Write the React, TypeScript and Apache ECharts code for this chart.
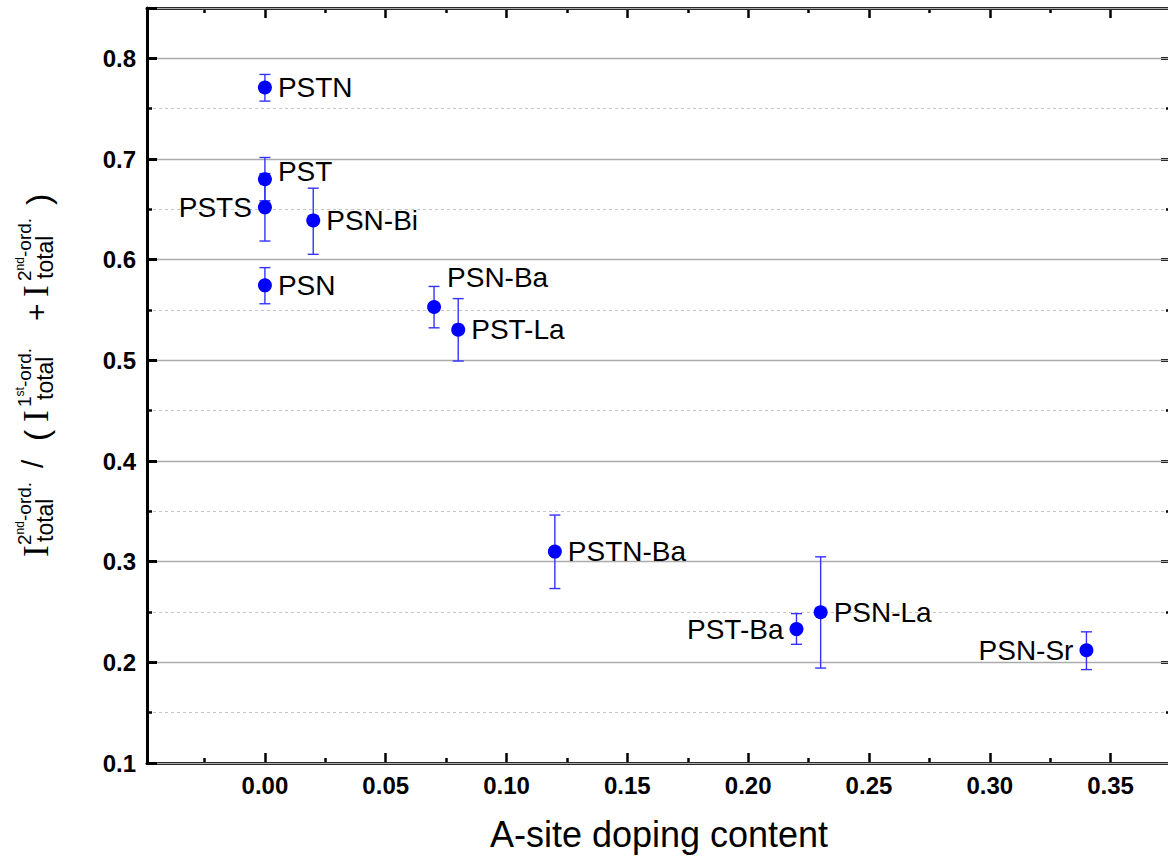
import React, { useEffect, useRef } from 'react';
import * as echarts from 'echarts';

// ---- data ----
const sampleNames = ['PSTN', 'PST', 'PSTS', 'PSN-Bi', 'PSN', 'PSN-Ba', 'PST-La', 'PSTN-Ba', 'PST-Ba', 'PSN-La', 'PSN-Sr'];
const dopingContent = [0, 0, 0, 0.02, 0, 0.07, 0.08, 0.12, 0.22, 0.23, 0.34];
const intensityRatio = [0.771, 0.680, 0.652, 0.639, 0.5745, 0.553, 0.5305, 0.310, 0.233, 0.2497, 0.212];
const errorLow = [0.7575, 0.6585, 0.6185, 0.6053, 0.5562, 0.5323, 0.4993, 0.2733, 0.2179, 0.1943, 0.1928];
const errorHigh = [0.784, 0.7015, 0.6855, 0.671, 0.5921, 0.5734, 0.5613, 0.3463, 0.2484, 0.3048, 0.2303];

const xMajorTicks = [0, 0.05, 0.1, 0.15, 0.2, 0.25, 0.3, 0.35];
const xMinorTicks = [-0.025, 0.025, 0.075, 0.125, 0.175, 0.225, 0.275, 0.325];
const X_MIN = -0.0488;
const X_MAX = 0.375;
const Y_MIN = 0.1;
const Y_MAX = 0.85;

const xTitle = 'A-site doping content';

// label placement (style, not data)
const leftLabels = new Set(['PSTS', 'PST-Ba', 'PSN-Sr']);
const labelOffsets: Record<string, number[]> = { 'PST': [0, -8], 'PSN-Ba': [0, -29] };

const SANS = '"Liberation Sans", Arial, Helvetica, sans-serif';
const SERIF = '"Liberation Serif", "Times New Roman", serif';
const DOT = '#0000ff';
const ERR = '#3333ff';

// y-axis title pieces: u = distance along reading direction from bottom, v = page x of glyph centre
type Piece = { u: number; v: number; t: string; fs: number; serif?: boolean };
const titlePieces: Piece[] = [
  { u: 0, v: 36.5, t: 'I', fs: 35, serif: true },
  { u: 12, v: 24, t: '2', fs: 19 },
  { u: 22.6, v: 20, t: 'nd', fs: 12 },
  { u: 36, v: 24, t: '-ord.', fs: 19 },
  { u: 15, v: 44.5, t: 'total', fs: 23 },
  { u: 89, v: 32, t: '/', fs: 30 },
  { u: 116, v: 36, t: '(', fs: 34 },
  { u: 135, v: 36.5, t: 'I', fs: 35, serif: true },
  { u: 150, v: 24, t: '1', fs: 19 },
  { u: 160.6, v: 20, t: 'st', fs: 12 },
  { u: 170, v: 24, t: '-ord.', fs: 19 },
  { u: 157, v: 44.5, t: 'total', fs: 23 },
  { u: 236, v: 36.5, t: '+', fs: 30 },
  { u: 260, v: 36.5, t: 'I', fs: 35, serif: true },
  { u: 276, v: 24, t: '2', fs: 19 },
  { u: 286.6, v: 20, t: 'nd', fs: 12 },
  { u: 300, v: 24, t: '-ord.', fs: 19 },
  { u: 278, v: 44.5, t: 'total', fs: 23 },
  { u: 352, v: 37.5, t: ')', fs: 34 },
];

export default function App() {
  const ref = useRef<HTMLDivElement>(null);

  useEffect(() => {
    document.body.style.margin = '0';
    const chart = echarts.init(ref.current!, null, { renderer: 'svg' });

    const axisLine = { show: true, onZero: false, lineStyle: { color: '#000', width: 3 } };
    const noLine = { show: false, onZero: false };
    const tickLabelStyle = { color: '#000', fontSize: 24, fontWeight: 'bold' as const, fontFamily: SANS };

    const baseX = { type: 'value' as const, min: X_MIN, max: X_MAX, splitLine: { show: false } };
    const baseY = { type: 'value' as const, min: Y_MIN, max: Y_MAX };

    const option: any = {
      animation: false,
      backgroundColor: '#fff',
      grid: { left: 147, top: 8, right: -3, bottom: 96, outerBoundsMode: 'none' },
      xAxis: [
        {
          ...baseX, position: 'bottom', axisLine,
          axisTick: { show: true, inside: true, length: 10, customValues: xMajorTicks, lineStyle: { color: '#000', width: 2.5 } },
          axisLabel: { show: true, customValues: xMajorTicks, margin: 10, formatter: (v: number) => v.toFixed(2), ...tickLabelStyle },
          name: xTitle, nameLocation: 'middle', nameGap: 53,
          nameTextStyle: { color: '#000', fontSize: 36, fontFamily: SANS },
        },
        {
          ...baseX, position: 'bottom', axisLine: noLine,
          axisTick: { show: true, inside: true, length: 5, customValues: xMinorTicks, lineStyle: { color: '#000', width: 2.5 } },
          axisLabel: { show: false },
        },
        {
          ...baseX, position: 'top', axisLine,
          axisTick: { show: true, inside: true, length: 10, customValues: xMajorTicks, lineStyle: { color: '#000', width: 2.5 } },
          axisLabel: { show: false },
        },
        {
          ...baseX, position: 'top', axisLine: noLine,
          axisTick: { show: true, inside: true, length: 5, customValues: xMinorTicks, lineStyle: { color: '#000', width: 2.5 } },
          axisLabel: { show: false },
        },
      ],
      yAxis: [
        {
          ...baseY, interval: 0.1, position: 'left', z: 1, axisLine,
          axisTick: { show: true, inside: true, length: 10, lineStyle: { color: '#000', width: 3 } },
          axisLabel: { show: true, margin: 11, formatter: (v: number) => (v > 0.801 ? '' : v.toFixed(1)), ...tickLabelStyle },
          splitLine: { show: true, lineStyle: { color: '#ababab', width: 1.4, type: 'solid' } },
        },
        {
          ...baseY, interval: 0.05, position: 'left', z: 0, axisLine: noLine,
          axisTick: { show: true, inside: true, length: 5, lineStyle: { color: '#000', width: 2.5 } },
          axisLabel: { show: false },
          splitLine: { show: true, lineStyle: { color: '#c4c4c4', width: 1, type: [3, 3] } },
        },
        {
          ...baseY, interval: 0.1, position: 'right', axisLine,
          axisTick: { show: true, inside: true, length: 10, lineStyle: { color: '#000', width: 3 } },
          axisLabel: { show: false }, splitLine: { show: false },
        },
        {
          ...baseY, interval: 0.05, position: 'right', axisLine: noLine,
          axisTick: { show: true, inside: true, length: 5, lineStyle: { color: '#000', width: 2.5 } },
          axisLabel: { show: false }, splitLine: { show: false },
        },
      ],
      series: [
        {
          type: 'custom',
          name: 'error',
          xAxisIndex: 0,
          yAxisIndex: 0,
          z: 3,
          encode: { x: 0, y: [1, 2] },
          data: dopingContent.map((x, i) => [x, errorLow[i], errorHigh[i]]),
          renderItem: (_p: any, api: any) => {
            const x = api.value(0);
            const lo = api.coord([x, api.value(1)]);
            const hi = api.coord([x, api.value(2)]);
            const w = 5.5;
            const style = { stroke: ERR, lineWidth: 1.4 };
            return {
              type: 'group',
              children: [
                { type: 'line', shape: { x1: hi[0], y1: hi[1], x2: lo[0], y2: lo[1] }, style },
                { type: 'line', shape: { x1: hi[0] - w, y1: hi[1], x2: hi[0] + w, y2: hi[1] }, style },
                { type: 'line', shape: { x1: lo[0] - w, y1: lo[1], x2: lo[0] + w, y2: lo[1] }, style },
              ],
            };
          },
        },
        {
          type: 'scatter',
          xAxisIndex: 0,
          yAxisIndex: 0,
          z: 4,
          symbol: 'circle',
          symbolSize: 14,
          itemStyle: { color: DOT, opacity: 1 },
          label: {
            show: true, formatter: '{b}', color: '#000', fontSize: 28, fontFamily: SANS, distance: 6,
          },
          data: dopingContent.map((x, i) => {
            const n = sampleNames[i];
            return {
              name: n,
              value: [x, intensityRatio[i]],
              label: { position: leftLabels.has(n) ? 'left' : 'right', offset: labelOffsets[n] || [0, 0] },
            };
          }),
        },
      ],
      graphic: [
        {
          type: 'group',
          x: 0,
          y: 557,
          rotation: Math.PI / 2,
          children: titlePieces.map((p) => ({
            type: 'text',
            x: p.u,
            y: p.v,
            style: {
              text: p.t,
              fontSize: p.fs,
              fontFamily: p.serif ? SERIF : SANS,
              fill: '#000',
              align: 'left',
              verticalAlign: 'middle',
            },
          })),
        },
      ],
    };

    chart.setOption(option);
    return () => chart.dispose();
  }, []);

  return <div ref={ref} style={{ width: 1168, height: 859 }} />;
}
